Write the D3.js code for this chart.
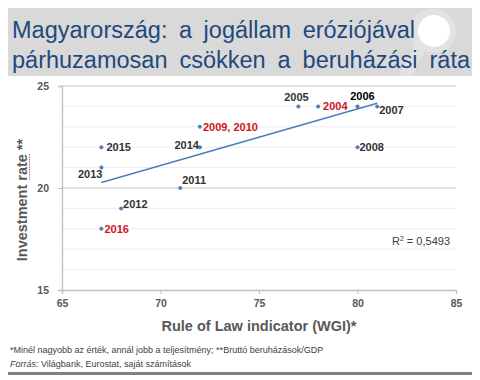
<!DOCTYPE html>
<html>
<head>
<meta charset="utf-8">
<script src="https://cdn.jsdelivr.net/npm/d3@7"></script>
<style>
  html, body { margin: 0; padding: 0; background: #ffffff; }
  svg { display: block; }
</style>
</head>
<body>
<svg id="chart" width="480" height="380"></svg>
<script>
// ---- data ----
const pointLabels   = ["2004", "2005", "2006", "2007", "2008", "2009, 2010", "2011", "2012", "2013", "2014", "2015", "2016"];
const ruleOfLaw     = [78, 77, 80, 81, 80, 72, 71, 68, 67, 72, 67, 67];
const investment    = [24, 24, 24, 24, 22, 23, 20, 19, 21, 22, 22, 18];
const yearsPerPoint = [1, 1, 1, 1, 1, 2, 1, 1, 1, 1, 1, 1];   // 2009 and 2010 coincide
const redLabels     = ["2004", "2009, 2010", "2016"];
const blackLabels   = ["2006"];
const xTicks = [65, 70, 75, 80, 85];
const yTicks = [15, 20, 25];
const rSquaredText = "0,5493";

// ---- label placement (presentation only) ----
const labelPlacement = {
  "2004": {dx: 5, dy: 4, anchor: "start"},
  "2005": {dx: -2, dy: -5, anchor: "middle"},
  "2006": {dx: 5, dy: -6, anchor: "middle"},
  "2007": {dx: 2, dy: 8, anchor: "start"},
  "2008": {dx: 2, dy: 4, anchor: "start"},
  "2009, 2010": {dx: 3, dy: 4, anchor: "start"},
  "2011": {dx: 2, dy: -4, anchor: "start"},
  "2012": {dx: 2, dy: 0, anchor: "start"},
  "2013": {dx: 1, dy: 10, anchor: "end"},
  "2014": {dx: -1, dy: 2, anchor: "end"},
  "2015": {dx: 5, dy: 4, anchor: "start"},
  "2016": {dx: 3, dy: 4, anchor: "start"}
};

const svg = d3.select("#chart");
const FONT = "'Liberation Sans', Arial, sans-serif";

// ---- title band ----
svg.append("rect").attr("x", 8).attr("y", 8).attr("width", 464).attr("height", 68).attr("fill", "#d9d9d9");
// decorative quote mark
const logo = svg.append("g");
logo.append("path")
  .attr("d", "M 434 9 A 22 22 0 1 1 425 51 L 412 76 L 398 76 L 415 45 A 22 22 0 0 1 434 9 Z")
  .attr("fill", "#e2e2e2");
logo.append("circle").attr("cx", 434).attr("cy", 31).attr("r", 16).attr("fill", "#ffffff");

const titleLines = [
  {text: "Magyarország: a jogállam eróziójával", y: 38, width: 403},
  {text: "párhuzamosan csökken a beruházási ráta", y: 68, width: 458}
];
const title = svg.append("g").attr("font-family", FONT).attr("font-size", 23.5).attr("fill", "#1f497d");
titleLines.forEach(l => {
  const t = title.append("text").attr("x", 12).attr("y", l.y).text(l.text);
  const natural = t.node().getComputedTextLength();
  const spaces = (l.text.match(/ /g) || []).length;
  if (natural < l.width && spaces > 0) t.attr("word-spacing", (l.width - natural) / spaces);
});

// ---- scales ----
const x = d3.scaleLinear().domain([65, 85]).range([62, 456]);
const y = d3.scaleLinear().domain([15, 25]).range([290, 86]);

// gridlines
const gridVals = d3.range(16, 26);
svg.append("g").selectAll("line").data(gridVals).join("line")
  .attr("x1", x(65)).attr("x2", x(85))
  .attr("y1", d => y(d)).attr("y2", d => y(d))
  .attr("stroke", d => (d % 5 === 0) ? "#d9d9d9" : "#ededed")
  .attr("stroke-width", d => (d % 5 === 0) ? 1.3 : 1);

// axes
const axisColor = "#bfbfbf";
const xAxis = svg.append("g").attr("transform", `translate(0,${y(15)})`)
  .call(d3.axisBottom(x).tickValues(xTicks).tickSize(4).tickPadding(6).tickFormat(d3.format("d")));
const yAxis = svg.append("g").attr("transform", `translate(${x(65)},0)`)
  .call(d3.axisLeft(y).tickValues(yTicks).tickSize(4).tickPadding(9).tickFormat(d3.format("d")));
[xAxis, yAxis].forEach(a => {
  a.select(".domain").attr("stroke", axisColor).attr("stroke-width", 1.3);
  a.selectAll(".tick line").attr("stroke", axisColor);
  a.selectAll(".tick text").attr("fill", "#595959").attr("font-family", FONT)
    .attr("font-size", 10.5).attr("font-weight", "bold");
});

// axis titles
svg.append("text").attr("x", 259).attr("y", 331).attr("text-anchor", "middle")
  .attr("font-family", FONT).attr("font-size", 14.5).attr("font-weight", "bold").attr("fill", "#595959")
  .text("Rule of Law indicator (WGI)*");
svg.append("text").attr("transform", "translate(27,200) rotate(-90)").attr("text-anchor", "middle")
  .attr("font-family", FONT).attr("font-size", 14.5).attr("font-weight", "bold").attr("fill", "#595959")
  .text("Investment rate **");
// spell-check squiggle under "rate"
svg.append("line").attr("x1", 29.5).attr("x2", 29.5).attr("y1", 154).attr("y2", 180)
  .attr("stroke", "#e06060").attr("stroke-width", 1).attr("stroke-dasharray", "1.5,1");

// ---- trend line (least squares) ----
let sw = 0, sx = 0, sy = 0;
ruleOfLaw.forEach((v, i) => { sw += yearsPerPoint[i]; sx += v * yearsPerPoint[i]; sy += investment[i] * yearsPerPoint[i]; });
const mx = sx / sw, my = sy / sw;
let sxy = 0, sxx = 0;
ruleOfLaw.forEach((v, i) => { sxy += yearsPerPoint[i] * (v - mx) * (investment[i] - my); sxx += yearsPerPoint[i] * (v - mx) ** 2; });
const slope = sxy / sxx, intercept = my - slope * mx;
const xMin = d3.min(ruleOfLaw), xMax = d3.max(ruleOfLaw);
svg.append("line")
  .attr("x1", x(xMin)).attr("y1", y(intercept + slope * xMin))
  .attr("x2", x(xMax)).attr("y2", y(intercept + slope * xMax))
  .attr("stroke", "#4a7ebb").attr("stroke-width", 1.5);

// ---- points ----
const pts = pointLabels.map((l, i) => ({label: l, x: ruleOfLaw[i], y: investment[i]}));
svg.append("g").selectAll("circle").data(pts).join("circle")
  .attr("cx", d => x(d.x)).attr("cy", d => y(d.y)).attr("r", 2)
  .attr("fill", "#4f81bd");

svg.append("g").selectAll("text").data(pts).join("text")
  .attr("x", d => x(d.x) + labelPlacement[d.label].dx)
  .attr("y", d => y(d.y) + labelPlacement[d.label].dy)
  .attr("text-anchor", d => labelPlacement[d.label].anchor)
  .attr("font-family", FONT).attr("font-size", 11).attr("font-weight", "bold")
  .attr("fill", d => redLabels.includes(d.label) ? "#d0141c" : (blackLabels.includes(d.label) ? "#000000" : "#333333"))
  .text(d => d.label);

// R squared
const r2 = svg.append("text").attr("x", 450).attr("y", 245).attr("text-anchor", "end")
  .attr("font-family", FONT).attr("font-size", 11).attr("fill", "#404040");
r2.append("tspan").text("R");
r2.append("tspan").attr("dy", -4).attr("font-size", 7).text("2");
r2.append("tspan").attr("dy", 4).text(" = " + rSquaredText);

// ---- footnotes ----
const foot = svg.append("g").attr("font-family", FONT).attr("font-size", 9).attr("fill", "#404040");
foot.append("text").attr("x", 10).attr("y", 353)
  .text("*Minél nagyobb az érték, annál jobb a teljesítmény; **Bruttó beruházások/GDP");
const f2 = foot.append("text").attr("x", 10).attr("y", 367);
f2.append("tspan").attr("font-style", "italic").text("Forrás:");
f2.append("tspan").text(" Világbank, Eurostat, saját számítások");

svg.append("rect").attr("x", 8).attr("y", 372).attr("width", 464).attr("height", 3).attr("fill", "#808080");
</script>
</body>
</html>
